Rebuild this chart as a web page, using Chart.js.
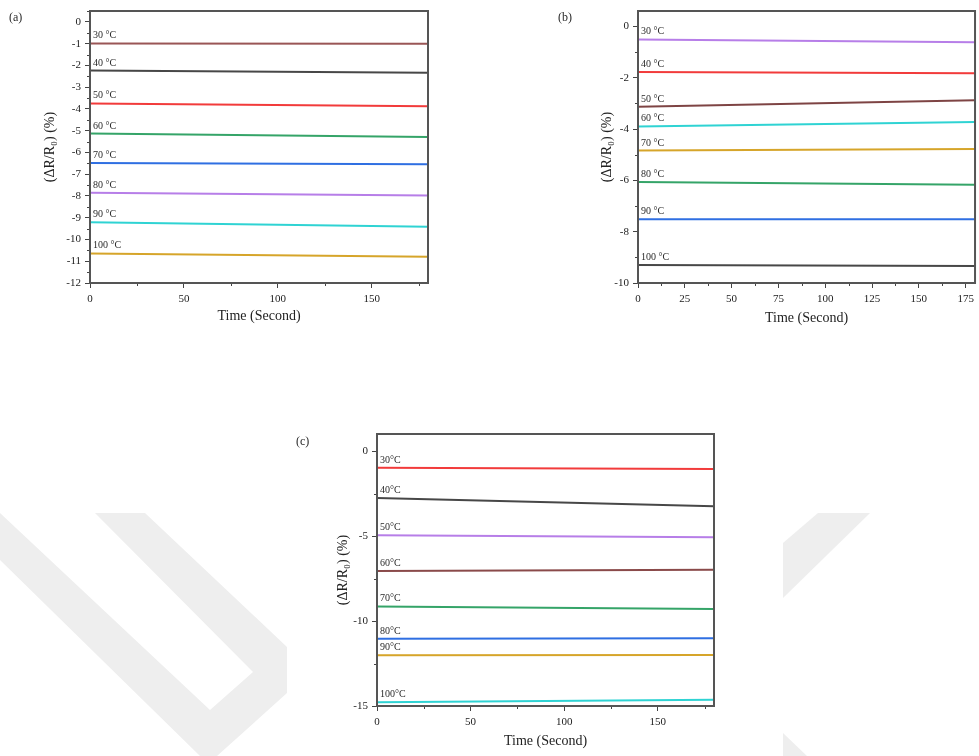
<!DOCTYPE html>
<html>
<head>
<meta charset="utf-8">
<script src="https://cdn.jsdelivr.net/npm/chart.js@4.4.1/dist/chart.umd.min.js"></script>
<style>
  html, body { margin: 0; padding: 0; background: #fff; }
  body { width: 979px; height: 756px; position: relative; overflow: hidden; }
  svg, canvas { position: absolute; }
  #mark { left: 0; top: 0; }
  #chartA { left: 0; top: 0; }
  #chartB { left: 540px; top: 0; }
  #chartC { left: 290px; top: 420px; }
</style>
</head>
<body>
<svg id="mark" width="979" height="756">
  <polygon points="0,513 210,710 253,672 95,513 145,513 287,647 287,693 217,756 200,756 0,560" fill="#eeeeee"/>
  <polygon points="818,513 870,513 783,598 783,543" fill="#eeeeee"/>
  <polygon points="783,733 807,756 783,756" fill="#eeeeee"/>
</svg>
<canvas id="chartA" width="440" height="330"></canvas>
<canvas id="chartB" width="439" height="330"></canvas>
<canvas id="chartC" width="440" height="336"></canvas>
<script>
// time span of each run (s): first and last reading
const TIME = [0, 180];

const tempsSpaced = ['30 °C', '40 °C', '50 °C', '60 °C', '70 °C', '80 °C', '90 °C', '100 °C'];
const tempsTight = ['30°C', '40°C', '50°C', '60°C', '70°C', '80°C', '90°C', '100°C'];

// ΔR/R0 (%) at t = 0 and t = 180 s, one entry per temperature
const aStart = [-0.99, -2.24, -3.75, -5.13, -6.48, -7.85, -9.21, -10.64];
const aEnd   = [-1.00, -2.34, -3.88, -5.29, -6.54, -7.98, -9.41, -10.79];

const bStart = [-0.51, -1.78, -3.13, -3.90, -4.84, -6.06, -7.52, -9.30];
const bEnd   = [-0.62, -1.83, -2.88, -3.73, -4.78, -6.17, -7.52, -9.34];

const cStart = [-0.98, -2.76, -4.96, -7.06, -9.14, -11.04, -12.02, -14.78];
const cEnd   = [-1.06, -3.25, -5.08, -6.98, -9.29, -11.02, -12.00, -14.63];

const BROWN = '#9a5656', DARK = '#474747', RED = '#f23b3b', GREEN = '#35a468',
      BLUE = '#2f6fe2', PURPLE = '#b77ee8', CYAN = '#2fd3d3', GOLD = '#d6a52a';

const FONT = '"Liberation Serif", "Times New Roman", serif';

// frame, minor ticks, in-plot temperature labels and panel tag
const panelDecor = {
  id: 'panelDecor',
  afterDatasetsDraw(chart, args, opts) {
    const { ctx, chartArea: a, scales } = chart;
    ctx.save();

    ctx.strokeStyle = '#444';
    ctx.lineWidth = 1;
    [['x', opts.xMinor, opts.xMajor], ['y', opts.yMinor, opts.yMajor]].forEach(([key, minor, major]) => {
      const s = scales[key];
      for (let v = Math.ceil(s.min / minor) * minor; v <= s.max + 1e-9; v += minor) {
        if (Math.abs(v / major - Math.round(v / major)) < 1e-6) continue;
        const p = Math.round(s.getPixelForValue(v)) + 0.5;
        ctx.beginPath();
        if (key === 'x') { ctx.moveTo(p, a.bottom); ctx.lineTo(p, a.bottom + 3); }
        else { ctx.moveTo(a.left, p); ctx.lineTo(a.left - 3, p); }
        ctx.stroke();
      }
    });

    ctx.strokeStyle = '#555';
    ctx.lineWidth = 2;
    ctx.strokeRect(a.left, a.top, a.right - a.left, a.bottom - a.top);

    ctx.fillStyle = '#2a2a2a';
    ctx.textAlign = 'left';
    ctx.textBaseline = 'alphabetic';
    ctx.font = '10px ' + FONT;
    chart.data.datasets.forEach((ds, i) => {
      const first = chart.getDatasetMeta(i).data[0];
      ctx.fillText(ds.label, a.left + 3, first.y - 5);
    });

    ctx.font = '12px ' + FONT;
    ctx.fillText(opts.tag, opts.tagX, opts.tagY);
    ctx.restore();
  }
};

function buildPanel(id, p) {
  const datasets = p.names.map((name, i) => ({
    label: name,
    data: [{ x: TIME[0], y: p.start[i] }, { x: TIME[1], y: p.end[i] }],
    borderColor: p.colors[i],
    borderWidth: 2,
    pointRadius: 0,
    fill: false,
    tension: 0
  }));

  const tickFont = { family: FONT, size: 11 };
  const titleFont = { family: FONT, size: 14 };

  return new Chart(document.getElementById(id), {
    type: 'line',
    data: { datasets },
    plugins: [panelDecor],
    options: {
      responsive: false,
      animation: false,
      layout: { padding: p.pad },
      plugins: {
        legend: { display: false },
        tooltip: { enabled: false },
        panelDecor: {
          tag: p.tag, tagX: p.tagX, tagY: p.tagY,
          xMajor: p.xStep, xMinor: p.xStep / 2,
          yMajor: p.yStep, yMinor: p.yStep / 2
        }
      },
      scales: {
        x: {
          type: 'linear',
          min: 0, max: 180,
          afterFit: s => { s.height = p.xHeight; },
          border: { display: false },
          grid: { drawOnChartArea: false, tickLength: 5, color: '#444' },
          ticks: { stepSize: p.xStep, includeBounds: false, padding: 5, color: '#222', font: tickFont, maxRotation: 0 },
          title: { display: true, text: 'Time (Second)', color: '#222', font: titleFont, padding: 0 }
        },
        y: {
          type: 'linear',
          min: p.yMin, max: p.yMax,
          afterFit: s => { s.width = p.yWidth; },
          border: { display: false },
          grid: { drawOnChartArea: false, tickLength: 5, color: '#444' },
          ticks: { stepSize: p.yStep, includeBounds: false, padding: 4, color: '#222', font: tickFont, callback: v => String(v) },
          title: { display: true, text: '(ΔR/R₀) (%)', color: '#222', font: titleFont, padding: 0 }
        }
      }
    }
  });
}

buildPanel('chartA', {
  names: tempsSpaced, start: aStart, end: aEnd,
  colors: [BROWN, DARK, RED, GREEN, BLUE, PURPLE, CYAN, GOLD],
  yMin: -12, yMax: 0.5, yStep: 1, xStep: 50,
  pad: { left: 42, top: 11, right: 12, bottom: 5 }, yWidth: 48, xHeight: 42,
  tag: '(a)', tagX: 9, tagY: 21
});

buildPanel('chartB', {
  names: tempsSpaced, start: bStart, end: bEnd,
  colors: [PURPLE, RED, '#7e4444', CYAN, GOLD, GREEN, BLUE, DARK],
  yMin: -10, yMax: 0.6, yStep: 2, xStep: 25,
  pad: { left: 59, top: 11, right: 3, bottom: 3 }, yWidth: 39, xHeight: 44,
  tag: '(b)', tagX: 18, tagY: 21
});

buildPanel('chartC', {
  names: tempsTight, start: cStart, end: cEnd,
  colors: [RED, DARK, PURPLE, '#8a4a4a', GREEN, BLUE, GOLD, CYAN],
  yMin: -15, yMax: 1, yStep: 5, xStep: 50,
  pad: { left: 45, top: 14, right: 16, bottom: 6 }, yWidth: 42, xHeight: 44,
  tag: '(c)', tagX: 6, tagY: 25
});
</script>
</body>
</html>
